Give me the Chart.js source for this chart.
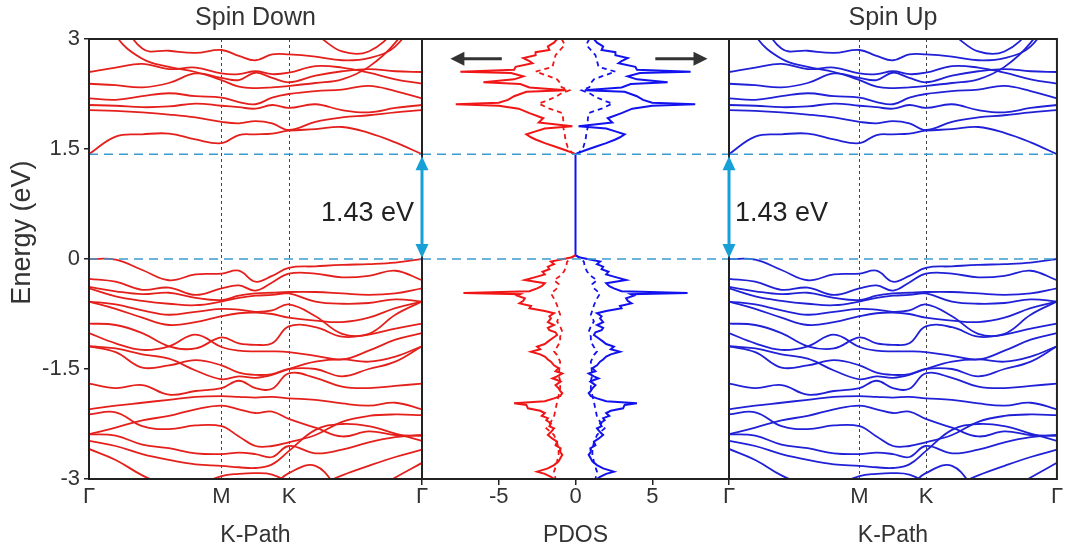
<!DOCTYPE html>
<html>
<head>
<meta charset="utf-8">
<script src="https://cdn.jsdelivr.net/npm/chart.js@4.4.1/dist/chart.umd.min.js"></script>
<style>
  html, body { margin: 0; padding: 0; background: #fff; }
  #wrap { position: relative; width: 1068px; height: 552px; }
  #wrap canvas { position: absolute; left: 0; top: 0; }
</style>
</head>
<body>
<div id="wrap">
  <canvas id="spinDown" width="1068" height="552"></canvas>
  <canvas id="spinUp" width="1068" height="552"></canvas>
  <canvas id="pdos" width="1068" height="552"></canvas>
</div>
<script>
Chart.defaults.font.family = "'Liberation Sans', Arial, sans-serif";
Chart.defaults.color = '#333';

// k-path positions (fraction of Γ-M-K-Γ) where band energies were read
const kPath = [0, 0.08, 0.16, 0.24, 0.32, 0.398, 0.45, 0.5, 0.55, 0.6, 0.68, 0.76, 0.84, 0.92, 1];
const kTicks = [0, 0.398, 0.601, 1];
const kLabels = ['Γ', 'M', 'K', 'Γ'];

const eMin = -3, eMax = 3, eStep = 1.5;
const gapEnergy = 1.43;
const gapText = '1.43 eV';

// conduction bands (eV)
const cb1 = [1.43, 1.67, 1.70, 1.71, 1.63, 1.58, 1.69, 1.70, 1.71, 1.75, 1.77, 1.80, 1.72, 1.59, 1.43];
const cb2 = [2.03, 2.02, 2.00, 1.97, 1.93, 1.87, 1.85, 1.88, 1.85, 1.76, 1.87, 1.93, 1.96, 2.00, 2.03];
const cb3 = [2.10, 2.09, 2.07, 2.08, 2.12, 2.09, 2.07, 2.05, 2.10, 2.06, 2.11, 2.03, 2.00, 2.06, 2.10];
const cb4 = [2.19, 2.17, 2.22, 2.26, 2.22, 2.20, 2.14, 2.11, 2.20, 2.25, 2.29, 2.31, 2.36, 2.29, 2.19];
const cb5 = [2.39, 2.37, 2.34, 2.40, 2.53, 2.47, 2.44, 2.54, 2.47, 2.41, 2.50, 2.56, 2.59, 2.56, 2.55];
const cb6 = [2.55, 2.61, 2.66, 2.59, 2.61, 2.53, 2.52, 2.56, 2.52, 2.54, 2.63, 2.61, 2.54, 2.45, 2.39];
const cb7 = [3.80, 3.05, 2.73, 2.62, 2.55, 2.44, 2.35, 2.33, 2.34, 2.36, 2.40, 2.45, 2.62, 2.95, 3.50];
const cb8 = [3.90, 3.40, 2.87, 2.84, 2.81, 2.85, 2.77, 2.71, 2.79, 2.79, 2.76, 2.71, 2.74, 2.90, 3.40];
const cb9 = [4.50, 4.40, 4.20, 4.00, 3.80, 3.60, 3.50, 3.40, 3.30, 3.20, 3.06, 2.83, 2.83, 3.15, 3.80];

// valence bands (eV)
const vb1 = [0.00, -0.01, -0.15, -0.29, -0.21, -0.20, -0.16, -0.31, -0.23, -0.12, -0.10, -0.08, -0.07, -0.05, 0.00];
const vb2 = [-0.27, -0.31, -0.42, -0.39, -0.49, -0.40, -0.36, -0.43, -0.32, -0.20, -0.20, -0.25, -0.23, -0.16, -0.29];
const vb3 = [-0.38, -0.44, -0.48, -0.46, -0.53, -0.56, -0.50, -0.47, -0.46, -0.45, -0.45, -0.47, -0.49, -0.47, -0.40];
const vb4 = [-0.40, -0.51, -0.57, -0.61, -0.63, -0.58, -0.53, -0.50, -0.49, -0.47, -0.58, -0.61, -0.60, -0.55, -0.58];
const vb5 = [-0.58, -0.68, -0.80, -0.90, -0.86, -0.78, -0.74, -0.73, -0.75, -0.80, -0.84, -0.86, -0.80, -0.67, -0.58];
const vb6 = [-0.88, -0.90, -1.01, -1.19, -1.22, -1.07, -1.15, -1.17, -1.15, -0.92, -0.93, -1.06, -1.03, -0.95, -0.88];
const vb7 = [-1.01, -1.15, -1.24, -1.19, -1.03, -1.20, -1.25, -1.26, -1.26, -1.27, -1.32, -1.37, -1.25, -1.10, -1.01];
const vb8 = [-1.19, -1.27, -1.48, -1.45, -1.38, -1.45, -1.55, -1.58, -1.57, -1.50, -1.50, -1.60, -1.50, -1.40, -1.19];
const vb9 = [-1.70, -1.76, -1.72, -1.85, -1.80, -1.76, -1.66, -1.76, -1.77, -1.56, -1.62, -1.74, -1.76, -1.73, -1.70];
const vb10 = [-2.05, -2.00, -1.96, -1.92, -1.88, -1.87, -1.88, -1.89, -1.88, -1.90, -1.92, -1.97, -2.00, -1.96, -2.05];
const vb11 = [-2.12, -2.09, -2.28, -2.32, -2.27, -2.28, -2.42, -2.55, -2.55, -2.50, -2.40, -2.22, -2.14, -2.12, -2.13];
const vb12 = [-2.39, -2.41, -2.53, -2.58, -2.65, -2.66, -2.64, -2.66, -2.70, -2.55, -2.65, -2.60, -2.50, -2.43, -2.40];
const vb13 = [-2.48, -2.55, -2.66, -2.74, -2.80, -2.82, -2.84, -2.85, -2.80, -2.62, -2.33, -2.25, -2.28, -2.38, -2.48];
const vb14 = [-2.59, -2.74, -2.95, -3.10, -3.20, -3.30, -3.40, -3.40, -3.30, -3.20, -3.10, -2.95, -2.82, -2.70, -2.60];
const vb15 = [-3.60, -3.50, -3.40, -3.30, -3.10, -2.96, -2.93, -2.92, -2.94, -3.05, -3.30, -3.50, -3.20, -2.98, -2.78];
const vb16 = [-3.90, -3.80, -3.70, -3.60, -3.50, -3.40, -3.30, -3.20, -3.10, -2.92, -2.82, -3.20, -3.50, -3.40, -3.20];
const vb17 = [-0.58, -0.62, -0.70, -0.76, -0.72, -0.68, -0.69, -0.72, -0.70, -0.62, -0.78, -1.02, -1.02, -0.76, -0.58];
const vb18 = [-1.19, -1.22, -1.30, -1.36, -1.52, -1.64, -1.60, -1.62, -1.58, -1.50, -1.40, -1.37, -1.40, -1.33, -1.19];
const vb19 = [-2.39, -2.30, -2.20, -2.14, -2.05, -2.00, -2.05, -2.10, -2.08, -2.18, -2.30, -2.42, -2.35, -2.40, -2.41];

const bands = [cb1, cb2, cb3, cb4, cb5, cb6, cb7, cb8, cb9,
  vb1, vb2, vb3, vb4, vb5, vb6, vb7, vb8, vb9, vb10, vb11, vb12, vb13, vb14, vb15, vb16,
  vb17, vb18, vb19];

// projected DOS, total (solid) – same magnitude for both spins
const pdosE = [3.00, 2.95, 2.90, 2.85, 2.82, 2.78, 2.74, 2.70, 2.67, 2.62, 2.58, 2.555, 2.535, 2.49, 2.45, 2.41, 2.385, 2.34, 2.30, 2.28,
  2.22, 2.17, 2.13, 2.11, 2.09, 2.05, 1.99, 1.92, 1.86, 1.81, 1.78, 1.74, 1.70, 1.66, 1.63, 1.58, 1.53, 1.48, 1.44, 1.43,
  0.05, 0.02, -0.036, -0.07, -0.105, -0.14, -0.173, -0.21, -0.24, -0.286, -0.31, -0.33, -0.37, -0.40, -0.44, -0.465, -0.48, -0.50, -0.536, -0.57,
  -0.605, -0.64, -0.673, -0.71, -0.74, -0.78, -0.81, -0.86, -0.90, -0.94, -0.97, -1.00, -1.036, -1.08, -1.127, -1.16, -1.195, -1.23, -1.264, -1.30,
  -1.33, -1.37, -1.40, -1.45, -1.49, -1.53, -1.56, -1.60, -1.627, -1.65, -1.673, -1.72, -1.764, -1.80, -1.83, -1.87, -1.90, -1.94, -1.968, -1.99,
  -2.036, -2.07, -2.10, -2.14, -2.17, -2.20, -2.24, -2.28, -2.31, -2.36, -2.40, -2.45, -2.49, -2.54, -2.58, -2.63, -2.67, -2.72, -2.76, -2.81,
  -2.855, -2.90, -2.93, -2.97, -3.00];
const pdosTotal = [1.2, 1.4, 1.8, 1.7, 2.6, 2.6, 3.4, 3.0, 2.8, 3.9, 4.0, 7.5, 4.2, 3.4, 4.0, 6.0, 3.6, 3.0, 0.6, 3.2,
  4.0, 4.4, 5.0, 7.8, 5.0, 3.7, 3.0, 2.1, 2.4, 0.2, 2.0, 2.6, 3.2, 2.9, 2.6, 2.0, 1.3, 0.6, 0.1, 0,
  0, 0.3, 1.6, 1.4, 1.8, 1.7, 2.15, 2.0, 2.5, 3.3, 2.6, 2.0, 2.2, 2.5, 3.0, 7.3, 3.6, 3.8, 3.3, 3.4,
  3.65, 2.9, 3.0, 2.0, 1.4, 1.7, 1.6, 1.8, 1.4, 1.8, 1.7, 1.3, 1.2, 1.5, 1.8, 2.0, 2.5, 2.3, 2.9, 2.3,
  2.0, 1.8, 1.6, 1.4, 1.1, 1.3, 0.86, 1.2, 1.5, 1.2, 0.97, 1.3, 1.1, 1.0, 0.86, 1.0, 1.4, 2.0, 4.0, 3.2,
  3.1, 2.3, 2.0, 2.2, 1.8, 1.9, 1.6, 1.7, 1.4, 1.6, 1.8, 1.5, 1.2, 1.3, 0.97, 1.0, 0.86, 1.0, 1.1, 1.4,
  1.8, 2.5, 2.0, 1.6, 1.4];

// projected DOS, partial (dashed)
const pdosPartE = [3.00, 2.92, 2.85, 2.78, 2.70, 2.62, 2.555, 2.49, 2.45, 2.40, 2.34, 2.30, 2.25, 2.21, 2.15, 2.12, 2.08, 2.05, 1.99, 1.90,
  1.80, 1.70, 1.62, 1.52, 1.44, 1.43,
  0.05, 0.00, -0.04, -0.10, -0.17, -0.23, -0.29, -0.34, -0.40, -0.47, -0.54, -0.63, -0.70, -0.76, -0.85, -0.92, -0.99, -1.06, -1.13, -1.20,
  -1.26, -1.31, -1.40, -1.50, -1.58, -1.66, -1.76, -1.86, -1.95, -2.05, -2.15, -2.22, -2.31, -2.36, -2.40, -2.50, -2.60, -2.67, -2.76, -2.84,
  -2.90, -3.00];
const pdosPart = [0.9, 0.7, 1.0, 1.3, 1.4, 1.5, 2.6, 1.7, 1.2, 1.0, 0.9, 0.4, 1.0, 1.3, 2.0, 2.4, 2.0, 1.7, 0.85, 0.8,
  0.8, 0.7, 0.65, 0.5, 0.2, 0,
  0, 0.4, 0.55, 0.6, 0.75, 1.0, 1.4, 1.1, 1.2, 1.6, 1.4, 1.2, 1.1, 1.0, 1.2, 1.0, 0.86, 1.0, 1.0, 1.2,
  1.4, 1.2, 1.0, 1.05, 1.1, 1.0, 1.0, 1.1, 1.2, 1.3, 1.4, 1.6, 1.9, 1.6, 1.4, 1.2, 1.1, 1.1, 1.2, 1.3,
  1.4, 1.3];

const redBand = 'rgb(228,32,28)', blueBand = 'rgb(32,32,214)';
const redDos = 'rgb(240,22,22)', blueDos = 'rgb(18,18,238)';
const gapColor = '#3a9bd2', arrowColor = '#17a0d6';
const FONT = "'Liberation Sans', Arial, sans-serif";

function arrowHead(ctx, tipX, tipY, dx, dy, len, half) {
  // dx, dy: unit direction of the arrow
  ctx.beginPath();
  ctx.moveTo(tipX, tipY);
  ctx.lineTo(tipX - dx * len - dy * half, tipY - dy * len + dx * half);
  ctx.lineTo(tipX - dx * len + dy * half, tipY - dy * len - dx * half);
  ctx.closePath();
  ctx.fill();
}

// dashed gap lines, panel frame, arrows and labels
const panelDecor = {
  id: 'panelDecor',
  afterDatasetsDraw(chart, args, o) {
    const {ctx, chartArea: a, scales} = chart;
    const ys = scales.y, xs = scales.x;
    const yV = ys.getPixelForValue(0), yC = ys.getPixelForValue(gapEnergy);
    ctx.save();

    ctx.strokeStyle = gapColor;
    ctx.lineWidth = 1.5;
    ctx.setLineDash([9, 6]);
    [yV, yC].forEach(py => {
      ctx.beginPath(); ctx.moveTo(a.left, py); ctx.lineTo(a.right, py); ctx.stroke();
    });
    ctx.setLineDash([]);

    ctx.strokeStyle = '#222';
    ctx.lineWidth = 2;
    ctx.strokeRect(a.left, a.top, a.right - a.left, a.bottom - a.top);

    if (o.gapArrows) {
      ctx.strokeStyle = arrowColor;
      ctx.fillStyle = arrowColor;
      ctx.lineWidth = 3;
      [a.left, a.right].forEach(px => {
        ctx.beginPath(); ctx.moveTo(px, yC + 10); ctx.lineTo(px, yV - 10); ctx.stroke();
        arrowHead(ctx, px, yC + 2, 0, -1, 14, 6.5);
        arrowHead(ctx, px, yV - 1, 0, 1, 14, 6.5);
      });
    }

    if (o.spinArrows) {
      const yA = ys.getPixelForValue(2.73);
      ctx.strokeStyle = '#333';
      ctx.fillStyle = '#333';
      ctx.lineWidth = 3;
      [[-4.8, -8.15, -1], [5.2, 8.6, 1]].forEach(([from, to, dir]) => {
        const x0 = xs.getPixelForValue(from), x1 = xs.getPixelForValue(to);
        ctx.beginPath(); ctx.moveTo(x0, yA); ctx.lineTo(x1 - dir * 10, yA); ctx.stroke();
        arrowHead(ctx, x1, yA, dir, 0, 14, 7);
      });
    }

    if (o.gapLabel) {
      ctx.font = '27px ' + FONT;
      ctx.fillStyle = '#222';
      ctx.textBaseline = 'middle';
      const ly = ys.getPixelForValue(0.62);
      if (o.gapLabel === 'right') {
        ctx.textAlign = 'right';
        ctx.fillText(gapText, a.right - 8, ly);
      } else {
        ctx.textAlign = 'left';
        ctx.fillText(gapText, a.left + 6, ly);
      }
    }

    if (o.yTitle) {
      ctx.font = '27px ' + FONT;
      ctx.fillStyle = '#333';
      ctx.textAlign = 'center';
      ctx.textBaseline = 'middle';
      ctx.translate(23, ys.getPixelForValue(0.36));
      ctx.rotate(-Math.PI / 2);
      ctx.fillText(o.yTitle, 0, 0);
    }
    ctx.restore();
  }
};

function bandSets(color) {
  return bands.map(b => ({
    data: b.map((e, i) => ({x: kPath[i], y: e})),
    borderColor: color,
    borderWidth: 1.8,
    pointRadius: 0,
    tension: 0.4,
    fill: false,
    clip: 0
  }));
}

function bandChart(id, title, color, onLeft) {
  return new Chart(document.getElementById(id), {
    type: 'line',
    data: {datasets: bandSets(color)},
    options: {
      responsive: false,
      animation: false,
      devicePixelRatio: 1,
      layout: {padding: onLeft ? {left: 0, right: 646, top: 0, bottom: 0} : {left: 729, right: 6, top: 0, bottom: 0}},
      plugins: {
        legend: {display: false},
        tooltip: {enabled: false},
        title: {
          display: true, text: title, fullSize: false, color: '#333',
          font: {size: 25, weight: 'normal'}, padding: {top: 3.5, bottom: 5.5}
        },
        panelDecor: onLeft ? {gapLabel: 'right', yTitle: 'Energy (eV)'} : {gapLabel: 'left'}
      },
      scales: {
        x: {
          type: 'linear', min: 0, max: 1,
          afterBuildTicks: s => { s.ticks = kTicks.map(v => ({value: v})); },
          afterFit: s => { s.height = 73; },
          ticks: {
            autoSkip: false, maxRotation: 0, padding: 5, color: '#333', font: {size: 22},
            callback: (v, i) => kLabels[i]
          },
          grid: {
            drawTicks: false, lineWidth: 1,
            color: c => (c.index === 1 || c.index === 2) ? '#444' : 'rgba(0,0,0,0)'
          },
          border: {display: false, dash: [3, 3]},
          title: {display: true, text: 'K-Path', color: '#333', font: {size: 23}, padding: {top: 0, bottom: 3}}
        },
        y: onLeft ? {
          type: 'linear', min: eMin, max: eMax,
          afterFit: s => { s.width = 89; },
          ticks: {stepSize: eStep, padding: 4, color: '#333', font: {size: 22}, callback: v => String(v)},
          grid: {drawOnChartArea: false, drawTicks: true, tickLength: 5, color: '#222', lineWidth: 1.5},
          border: {display: false}
        } : {type: 'linear', min: eMin, max: eMax, display: false}
      }
    },
    plugins: [panelDecor]
  });
}

// the zero segment through the gap is left to the spin-up total curve
const hideGap = {
  borderColor: c => (c.p0.parsed.x === 0 && c.p1.parsed.x === 0) ? 'rgba(0,0,0,0)' : undefined
};

function dosSet(E, vals, sign, color, dashed, keepGap) {
  return {
    data: E.map((e, i) => ({x: sign * vals[i], y: e})),
    borderColor: color,
    borderWidth: dashed ? 1.8 : 2,
    borderDash: dashed ? [5, 4] : [],
    pointRadius: 0,
    tension: 0,
    fill: false,
    clip: 0,
    segment: keepGap ? {} : hideGap
  };
}

bandChart('spinDown', 'Spin Down', redBand, true);
bandChart('spinUp', 'Spin Up', blueBand, false);

new Chart(document.getElementById('pdos'), {
  type: 'line',
  data: {
    datasets: [
      dosSet(pdosPartE, pdosPart, -1, redDos, true, false),
      dosSet(pdosPartE, pdosPart, 1, blueDos, true, false),
      dosSet(pdosE, pdosTotal, -1, redDos, false, false),
      dosSet(pdosE, pdosTotal, 1, blueDos, false, true)
    ]
  },
  options: {
    responsive: false,
    animation: false,
    devicePixelRatio: 1,
    layout: {padding: {left: 422, right: 339, top: 39, bottom: 0}},
    plugins: {
      legend: {display: false},
      tooltip: {enabled: false},
      panelDecor: {gapArrows: true, spinArrows: true}
    },
    scales: {
      x: {
        type: 'linear', min: -10, max: 10,
        afterFit: s => { s.height = 73; },
        ticks: {
          stepSize: 5, padding: -1, color: '#333', font: {size: 22},
          callback: v => Math.abs(v) === 10 ? '' : String(v)
        },
        grid: {drawOnChartArea: false, drawTicks: true, tickLength: 6, color: '#222', lineWidth: 1.5},
        border: {display: false},
        title: {display: true, text: 'PDOS', color: '#333', font: {size: 23}, padding: {top: 0, bottom: 3}}
      },
      y: {type: 'linear', min: eMin, max: eMax, display: false}
    }
  },
  plugins: [panelDecor]
});
</script>
</body>
</html>
